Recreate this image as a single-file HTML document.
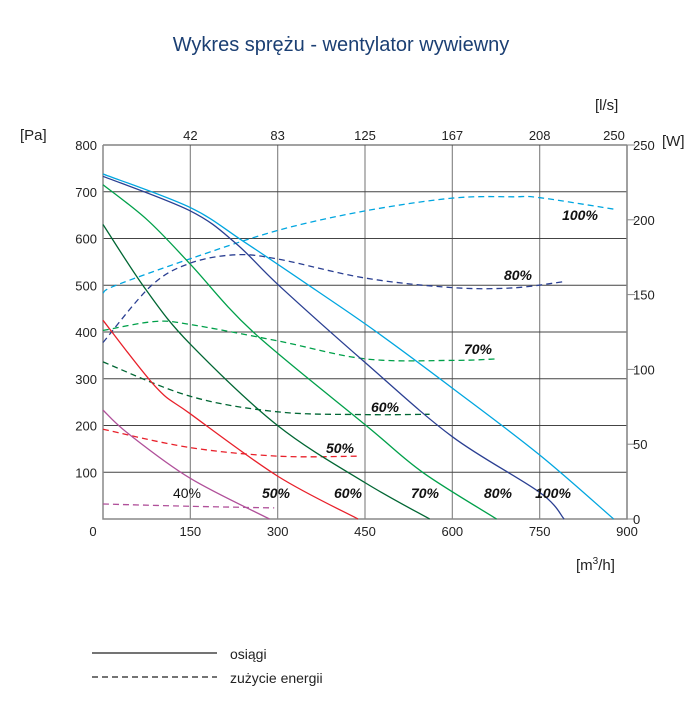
<!DOCTYPE html>
<html><head><meta charset="utf-8"><style>
body{margin:0;background:#fff;width:694px;height:713px;overflow:hidden;font-family:"Liberation Sans",Arial,sans-serif}
svg{position:absolute;left:0;top:0}
</style></head><body>
<svg id="chart" width="694" height="713" viewBox="0 0 694 713" font-family="Liberation Sans, Arial, sans-serif">
<text x="341" y="51" text-anchor="middle" font-size="20" fill="#1b3f73">Wykres sprężu - wentylator wywiewny</text>
<text x="20" y="140" font-size="15" fill="#222">[Pa]</text>
<text x="595" y="110" font-size="15" fill="#222">[l/s]</text>
<text x="662" y="146" font-size="15" fill="#222">[W]</text>
<text x="576" y="570" font-size="15" fill="#222">[m<tspan font-size="10" dy="-6">3</tspan><tspan dy="6">/h]</tspan></text>
<g id="grid"></g><g id="series"></g><g id="labels"></g>
<g>
<line x1="92" y1="653" x2="217" y2="653" stroke="#222" stroke-width="1.2"/>
<text x="230" y="659" font-size="14" fill="#222">osiągi</text>
<line x1="92" y1="677" x2="217" y2="677" stroke="#222" stroke-width="1.2" stroke-dasharray="6,4"/>
<text x="230" y="683" font-size="14" fill="#222">zużycie energii</text>
</g>
</svg>
<script>
const xTicks=[0,150,300,450,600,750,900];
const lsTicks=["42","83","125","167","208","250"];
const yTicks=[100,200,300,400,500,600,700,800];
const wTicks=[0,50,100,150,200,250];
const seriesNames=["40%","50%","60%","70%","80%","100%"];
const colors=["#b0509a","#e8202a","#006633","#00a04a","#2a3f92","#00a6e0"];
const p40=[[0,233],[43,183],[150,87],[286,0]];
const p50=[[0,425],[91,282],[150,225],[301,91],[438,0]];
const p60=[[0,630],[74,490],[150,374],[301,199],[451,77],[561,0]];
const p70=[[0,715],[76,640],[150,545],[258,400],[453,199],[549,100],[676,0]];
const p80=[[0,733],[150,659],[228,590],[301,501],[450,335],[600,176],[750,57],[792,0]];
const p100=[[0,738],[150,666],[241,594],[365,490],[470,400],[600,280],[750,137],[877,0]];
const w40=[[0,10],[150,8.5],[294,7.4]];
const w50=[[0,60],[150,47.7],[301,42],[438,42]];
const w60=[[0,105],[150,82],[301,71.6],[451,69.8],[561,70]];
const w70=[[0,126],[89,132],[150,130],[301,119],[451,107],[600,106],[676,107]];
const w80=[[0,118],[83,156],[150,171],[228,176.6],[301,173.7],[451,161],[600,154.7],[704,154.5],[792,158.7]];
const w100=[[0,151],[21,156],[150,174],[301,193],[451,206],[600,214.5],[704,215.4],[752,214.7],[879,207]];
const curveLabels=[[187,493,"40%",0],[276,493,"50%",1],[348,493,"60%",1],[425,493,"70%",1],[498,493,"80%",1],[553,493,"100%",1],
 [340,448,"50%",1],[385,407,"60%",1],[478,349,"70%",1],[518,275,"80%",1],[580,215,"100%",1]];
const X0=103,X1=627,Y0=519,Y1=145;
const sx=v=>X0+v/900*(X1-X0), sy=v=>Y0-v/800*(Y0-Y1), sw=v=>Y0-v/250*(Y0-Y1);
const NS="http://www.w3.org/2000/svg";
function mk(tag,attrs,parent,txt){const e=document.createElementNS(NS,tag);for(const k in attrs)e.setAttribute(k,attrs[k]);if(txt!==undefined)e.textContent=txt;parent.appendChild(e);return e;}
const grid=document.getElementById('grid'),ser=document.getElementById('series'),lab=document.getElementById('labels');
xTicks.forEach((t,i)=>{
 if(i>0){const l=mk('line',{x1:sx(t),x2:sx(t),y1:Y1,y2:Y0,stroke:'#8a8a8a','stroke-width':1.2},grid);
 
 const tx=mk('text',{x:sx(t),y:536,'text-anchor':'middle','font-size':13,fill:'#222'},grid,String(t));
 
 const tt=mk('text',{x:sx(t)-(i==6?13:0),y:140,'text-anchor':'middle','font-size':13,fill:'#222'},grid,lsTicks[i-1]);
 }
});
yTicks.forEach(t=>{
 const l=mk('line',{x1:X0,x2:X1,y1:sy(t),y2:sy(t),stroke:'#444','stroke-width':1},grid);
 
 const tx=mk('text',{x:97,y:sy(t)+5,'text-anchor':'end','font-size':13,fill:'#222'},grid,String(t));
 
});
wTicks.forEach(t=>{
 const l=mk('line',{x1:X1,x2:X1+8,y1:sw(t),y2:sw(t),stroke:'#888'},grid);
 
 const tx=mk('text',{x:X1+6,y:sw(t)+5,'font-size':13,fill:'#222'},grid,String(t));
 
});
const z=mk('text',{x:93,y:536,'text-anchor':'middle','font-size':13,fill:'#222'},grid,'0');

const ax=mk('path',{d:`M${X0},${Y1}V${Y0}H${X1}V${Y1}`,fill:'none',stroke:'#888','stroke-width':1.5},grid);

function path(pts){const p=pts.map(a=>[a[0],a[1]]);let d=`M${p[0][0].toFixed(1)},${p[0][1].toFixed(1)}`;
 for(let i=0;i<p.length-1;i++){const a=p[i-1]||p[i],b=p[i],c=p[i+1],e=p[i+2]||c;
 d+=`C${(b[0]+(c[0]-a[0])/6).toFixed(1)},${(b[1]+(c[1]-a[1])/6).toFixed(1)} ${(c[0]-(e[0]-b[0])/6).toFixed(1)},${(c[1]-(e[1]-b[1])/6).toFixed(1)} ${c[0].toFixed(1)},${c[1].toFixed(1)}`;}return d;}
const perf=[p40,p50,p60,p70,p80,p100], watt=[w40,w50,w60,w70,w80,w100];
watt.forEach((s,i)=>{const e=mk('path',{d:path(s.map(q=>[sx(q[0]),sw(q[1])])),fill:'none',stroke:colors[i],'stroke-width':1.3,'stroke-dasharray':'6,4'},ser);
 });
perf.forEach((s,i)=>{const e=mk('path',{d:path(s.map(q=>[sx(q[0]),sy(q[1])])),fill:'none',stroke:colors[i],'stroke-width':1.3},ser);
 });
curveLabels.forEach(c=>{const t=mk('text',{x:c[0],y:c[1]+5,'text-anchor':'middle','font-size':14,fill:'#111','font-weight':c[3]?'bold':'normal','font-style':c[3]?'italic':'normal'},lab,c[2]);
 });
</script>
</body></html>
